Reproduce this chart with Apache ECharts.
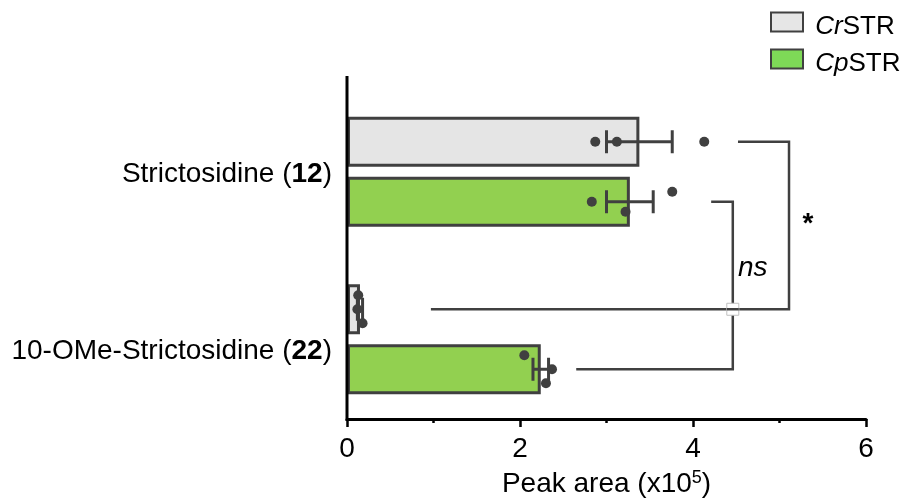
<!DOCTYPE html>
<html>
<head>
<meta charset="utf-8">
<script src="https://cdn.jsdelivr.net/npm/echarts@6/dist/echarts.min.js"></script>
<style>
html, body { margin: 0; padding: 0; background: #fff; }
#chart { width: 904px; height: 502px; }
</style>
</head>
<body>
<div id="chart"></div>
<script>
// data (peak area, x10^5)
var categories = ['Strictosidine', '10-OMe-Strictosidine'];
var compoundIds = ['12', '22'];
var seriesNames = ['CrSTR', 'CpSTR'];
var crMean = [3.38, 0.15];
var cpMean = [3.27, 2.24];
var crErr = [0.38, 0.03];
var cpErr = [0.27, 0.09];
var crReps = [[2.87, 3.12, 4.13], [0.13, 0.12, 0.18]];
var cpReps = [[2.83, 3.22, 3.76], [2.05, 2.37, 2.30]];
var xTicks = [0, 2, 4, 6];
// significance brackets: series, start on cat 0, start on cat 1, x of the vertical
var brackets = [
    {s: 0, from: 4.52, to: 0.97, at: 5.11, text: '*'},
    {s: 1, from: 4.21, to: 2.65, at: 4.46, text: 'ns'}
];

var FONT = '"Liberation Sans", Arial, sans-serif';
var INK = '#404040';
var BAR_OFF = [-30, 30];          // pixel offset of each series inside a category
var CAP = 11.5;
var JITTER = [[[0, 0, 0], [-14, 0, 14]], [[0, 10, -10], [-14, 0, 14]]];
var LABEL_DY = [3, 12];
var SIG_STYLE = {
    '*': {dx: 19, dy: -1, fontWeight: 'bold', fontStyle: 'normal'},
    'ns': {dx: 20, dy: -17, fontWeight: 'normal', fontStyle: 'italic'}
};

var means = [crMean, cpMean];
var errs = [crErr, cpErr];
var reps = [crReps, cpReps];

var errData = [];
var dotData = [];
for (var s = 0; s < 2; s++) {
    for (var c = 0; c < categories.length; c++) {
        errData.push([means[s][c], c, errs[s][c], s]);
        for (var r = 0; r < reps[s][c].length; r++) {
            dotData.push([reps[s][c][r], c, s, r]);
        }
    }
}

var chart = echarts.init(document.getElementById('chart'));

function renderErr(params, api) {
    var m = api.value(0), c = api.value(1), e = api.value(2), s = api.value(3);
    var lo = api.coord([m - e, c]);
    var hi = api.coord([m + e, c]);
    var y = lo[1] + BAR_OFF[s];
    var st = {stroke: INK, lineWidth: 3};
    return {
        type: 'group',
        children: [
            {type: 'line', shape: {x1: lo[0], y1: y, x2: hi[0], y2: y}, style: st},
            {type: 'line', shape: {x1: lo[0], y1: y - CAP, x2: lo[0], y2: y + CAP}, style: st},
            {type: 'line', shape: {x1: hi[0], y1: y - CAP, x2: hi[0], y2: y + CAP}, style: st}
        ]
    };
}

function renderDot(params, api) {
    var c = api.value(1), s = api.value(2), r = api.value(3);
    var p = api.coord([api.value(0), c]);
    return {
        type: 'circle',
        shape: {cx: p[0], cy: p[1] + BAR_OFF[s] + JITTER[s][c][r], r: 5},
        style: {fill: INK}
    };
}

function bracketGeom(api, b) {
    var top = api.coord([b.from, 0]);
    var bot = api.coord([b.to, 1]);
    var xv = api.coord([b.at, 0])[0];
    return {x1: top[0], y1: top[1] + BAR_OFF[b.s], x2: bot[0], y2: bot[1] + BAR_OFF[b.s], xv: xv};
}

function renderBracket(params, api) {
    var i = params.dataIndex;
    var g = bracketGeom(api, brackets[i]);
    var st = {stroke: INK, lineWidth: 2.5, fill: null};
    var children = [{
        type: 'polyline',
        shape: {points: [[g.x1, g.y1], [g.xv, g.y1], [g.xv, g.y2], [g.x2, g.y2]]},
        style: st
    }];
    // gap marker where this vertical crosses an earlier bracket's lower arm
    for (var j = 0; j < i; j++) {
        var o = bracketGeom(api, brackets[j]);
        if (g.xv > o.x2 && g.xv < o.xv && o.y2 > g.y1 && o.y2 < g.y2) {
            children.push({
                type: 'rect',
                shape: {x: g.xv - 6, y: o.y2 - 6, width: 12, height: 12},
                style: {fill: '#fff', stroke: '#c0c0c0', lineWidth: 1}
            });
            children.push({
                type: 'line',
                shape: {x1: g.xv - 6, y1: o.y2, x2: g.xv + 6, y2: o.y2},
                style: {stroke: INK, lineWidth: 2.5}
            });
        }
    }
    var ls = SIG_STYLE[brackets[i].text];
    children.push({
        type: 'text',
        style: {
            text: brackets[i].text,
            x: g.xv + ls.dx,
            y: (g.y1 + g.y2) / 2 + ls.dy,
            align: 'center',
            verticalAlign: 'middle',
            fontFamily: FONT,
            fontSize: 28,
            fontWeight: ls.fontWeight,
            fontStyle: ls.fontStyle,
            fill: '#000'
        }
    });
    return {type: 'group', children: children};
}

var legendRich = {
    i: {fontFamily: FONT, fontSize: 26, fontStyle: 'italic', color: '#000', lineHeight: 28, padding: [10, 0, 0, 0]},
    n: {fontFamily: FONT, fontSize: 26, color: '#000', lineHeight: 28, padding: [10, 0, 0, 0]}
};

var option = {
    animation: false,
    backgroundColor: '#fff',
    grid: {left: 347, right: 38, top: 88, bottom: 79, containLabel: false, outerBoundsMode: 'none'},
    legend: {
        orient: 'vertical',
        left: 770,
        top: 4,
        padding: 0,
        itemWidth: 32,
        itemHeight: 19,
        itemGap: 1,
        icon: 'rect',
        selectedMode: false,
        itemStyle: {borderColor: INK, borderWidth: 2},
        data: [
            {name: seriesNames[0], itemStyle: {color: '#e6e6e6'}},
            {name: seriesNames[1], itemStyle: {color: '#7ed957'}}
        ],
        formatter: function (name) {
            return '{i| ' + name.slice(0, 2) + '}{n|' + name.slice(2) + '}';
        },
        textStyle: {rich: legendRich}
    },
    xAxis: {
        type: 'value',
        min: xTicks[0],
        max: xTicks[xTicks.length - 1],
        interval: 2,
        offset: -4,
        axisLine: {show: true, lineStyle: {color: '#000', width: 3}},
        axisTick: {show: true, length: 8, lineStyle: {color: '#000', width: 2.5}},
        minorTick: {show: true, splitNumber: 2, length: 4, lineStyle: {color: '#000', width: 2.5}},
        splitLine: {show: false},
        axisLabel: {fontFamily: FONT, fontSize: 28, color: '#000', margin: 16},
        name: '{n|Peak area (x10}{s|5}{n|)}',
        nameLocation: 'middle',
        nameGap: 50,
        nameTextStyle: {
            rich: {
                n: {fontFamily: FONT, fontSize: 28, color: '#000', lineHeight: 30},
                s: {fontFamily: FONT, fontSize: 18, color: '#000', verticalAlign: 'top', lineHeight: 30, padding: [0, 0, 12, 0]}
            }
        }
    },
    yAxis: {
        type: 'category',
        data: categories,
        inverse: true,
        axisLine: {show: false},
        axisTick: {show: false},
        axisLabel: {show: false},
        splitLine: {show: false}
    },
    series: [
        {
            name: seriesNames[0],
            type: 'bar',
            data: crMean,
            barWidth: 50,
            barGap: '20%',
            itemStyle: {color: '#e5e5e5', borderColor: INK, borderWidth: 3}
        },
        {
            name: seriesNames[1],
            type: 'bar',
            data: cpMean,
            barWidth: 50,
            barGap: '20%',
            itemStyle: {color: '#92d050', borderColor: INK, borderWidth: 3}
        },
        {type: 'custom', name: 'err', renderItem: renderErr, data: errData, z: 3},
        {type: 'custom', name: 'dots', renderItem: renderDot, data: dotData, z: 4},
        {type: 'custom', name: 'sig', renderItem: renderBracket, data: brackets.map(function (b, i) { return [b.at, 0, i]; }), z: 3}
    ]
};

chart.setOption(option);

// y axis line and category labels
var x0 = chart.convertToPixel({xAxisIndex: 0}, 0);
var labelRich = {
    n: {fontFamily: FONT, fontSize: 28, color: '#000'},
    b: {fontFamily: FONT, fontSize: 28, fontWeight: 'bold', color: '#000'}
};
var graphics = [{
    type: 'line',
    shape: {x1: x0, y1: 76, x2: x0, y2: 421},
    style: {stroke: '#000', lineWidth: 3},
    z: 10
}];
categories.forEach(function (cat, i) {
    var yc = chart.convertToPixel({yAxisIndex: 0}, cat);
    graphics.push({
        type: 'text',
        style: {
            text: '{n|' + cat + ' (}{b|' + compoundIds[i] + '}{n|)}',
            rich: labelRich,
            x: x0 - 15,
            y: yc + LABEL_DY[i],
            align: 'right',
            verticalAlign: 'middle'
        }
    });
});
chart.setOption({graphic: graphics});

window.addEventListener('resize', function () {
    chart.resize();
});
</script>
</body>
</html>
